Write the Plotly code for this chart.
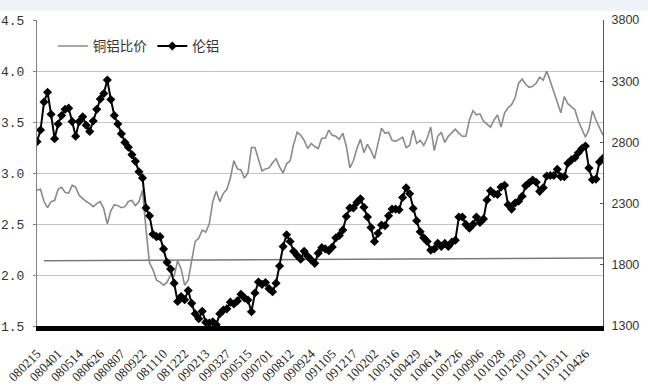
import plotly.graph_objects as go

# x tick labels (every 6th sample)
tick_labels = ["080215", "080401", "080514", "080626", "080807", "080922", "081110",
               "081222", "090213", "090327", "090515", "090701", "090812", "090924",
               "091105", "091217", "100202", "100316", "100429", "100614", "100726",
               "100906", "101028", "101209", "110121", "110311", "110426"]
label_step = 6

# copper/aluminium price ratio (left axis)
ratio = [2.83, 2.84, 2.72, 2.66, 2.72, 2.73, 2.84, 2.86, 2.81, 2.80,
         2.88, 2.86, 2.78, 2.75, 2.72, 2.70, 2.67, 2.70, 2.72, 2.65,
         2.50, 2.63, 2.69, 2.68, 2.66, 2.67, 2.72, 2.73, 2.68, 2.72,
         2.83, 2.45, 2.12, 2.05, 1.95, 1.93, 1.90, 1.93, 2.00, 1.99,
         2.14, 2.06, 1.90, 1.95, 2.15, 2.33, 2.36, 2.44, 2.42, 2.50,
         2.72, 2.82, 2.72, 2.80, 2.84, 2.95, 3.12, 3.04, 3.03, 2.95,
         3.00, 3.25, 3.25, 3.14, 3.02, 3.04, 3.05, 3.10, 3.14, 3.06,
         3.00, 3.09, 3.12, 3.28, 3.40, 3.37, 3.32, 3.24, 3.29, 3.26,
         3.24, 3.34, 3.34, 3.42, 3.37, 3.36, 3.33, 3.39, 3.26, 3.05,
         3.12, 3.24, 3.33, 3.20, 3.28, 3.22, 3.14, 3.29, 3.44, 3.39,
         3.40, 3.32, 3.31, 3.33, 3.35, 3.25, 3.27, 3.42, 3.29, 3.32,
         3.27, 3.34, 3.45, 3.22, 3.36, 3.40, 3.30, 3.36, 3.40, 3.43,
         3.39, 3.36, 3.36, 3.52, 3.61, 3.57, 3.58, 3.51, 3.48, 3.45,
         3.52, 3.57, 3.45, 3.59, 3.64, 3.67, 3.74, 3.88, 3.92, 3.87,
         3.84, 3.85, 3.88, 3.94, 3.91, 4.00, 3.90, 3.79, 3.70, 3.59,
         3.75, 3.68, 3.65, 3.62, 3.51, 3.42, 3.35, 3.43, 3.61, 3.52,
         3.44, 3.37]

# LME aluminium (right axis)
lme_al = [2806, 2901, 3130, 3210, 3030, 2830, 2950, 3020, 3070, 3080,
          2970, 2850, 2970, 3010, 2940, 2890, 2975, 3070, 3155, 3200,
          3310, 3150, 3020, 2950, 2870, 2800, 2760, 2700, 2645, 2560,
          2510, 2265, 2200, 2050, 2030, 2030, 1930, 1820, 1765, 1650,
          1500, 1540, 1515, 1590, 1485, 1400, 1360, 1420, 1330, 1325,
          1335, 1310, 1400, 1430, 1440, 1495, 1480, 1505, 1560, 1530,
          1512, 1417, 1570, 1660, 1640, 1655, 1605, 1580, 1650, 1790,
          1950, 2045, 1990, 1910, 1875, 1845, 1910, 1870, 1840, 1812,
          1895, 1940, 1930, 1915, 1945, 2020, 2040, 2084, 2195, 2265,
          2265, 2310, 2340, 2270, 2190, 2105, 1990, 2057, 2125, 2120,
          2200, 2255, 2255, 2250, 2350, 2430, 2380, 2260, 2160, 2070,
          2020, 1990, 1920, 1930, 1976, 1950, 1975, 1950, 1985, 2000,
          2190, 2190, 2130, 2098, 2130, 2190, 2145, 2175, 2330, 2405,
          2380, 2375, 2435, 2450, 2290, 2255, 2305, 2320, 2360, 2445,
          2470, 2493, 2475, 2400, 2430, 2525, 2530, 2530, 2580, 2520,
          2520, 2630, 2657, 2675, 2715, 2750, 2770, 2590, 2495, 2500,
          2640, 2670]

# right-axis tick values
right_ticks = [1300, 1800, 2300, 2800, 3300, 3800]

# straight reference line on the ratio axis (start / end values)
ref_line = [2.14, 2.167]
ref_start = 2

n = len(ratio)
x = list(range(n))
tickvals = [i * label_step for i in range(len(tick_labels))]

fig = go.Figure()
fig.add_trace(go.Scatter(
    x=[ref_start, n - 1], y=ref_line, mode="lines",
    line=dict(color="#7a7a7a", width=1.5), showlegend=False, hoverinfo="skip"))
fig.add_trace(go.Scatter(
    x=x, y=ratio, mode="lines", name="铜铝比价",
    line=dict(color="#8a8a8a", width=1.6)))
fig.add_trace(go.Scatter(
    x=x, y=lme_al, mode="lines+markers", name="伦铝", yaxis="y2",
    line=dict(color="#000000", width=2),
    marker=dict(symbol="diamond", size=7, color="#000000")))

fig.update_layout(
    width=648, height=391,
    margin=dict(l=37, r=45, t=20, b=65, autoexpand=False),
    paper_bgcolor="#ffffff", plot_bgcolor="#ffffff",
    showlegend=True,
    legend=dict(orientation="h", x=0.028, y=0.965, xanchor="left", yanchor="top",
                bgcolor="rgba(0,0,0,0)", itemwidth=30,
                font=dict(family="Noto Sans CJK SC", size=13.5, color="#333333")),
    xaxis=dict(range=[0, n - 1], tickmode="array", tickvals=tickvals, ticktext=tick_labels,
               tickangle=-45, showgrid=False, zeroline=False, automargin=False,
               showline=True, linecolor="#000000", linewidth=5,
               ticks="outside", ticklen=10, tickcolor="rgba(0,0,0,0)",
               tickfont=dict(family="Liberation Serif", size=13, color="#222222")),
    yaxis=dict(range=[1.5, 4.5], dtick=0.5, tickformat=".1f", showgrid=True,
               gridcolor="#c4c4c4", gridwidth=1, zeroline=False, automargin=False,
               showline=True, linecolor="#808080", linewidth=1,
               ticks="outside", ticklen=3, tickcolor="#808080", ticklabelstandoff=6,
               tickfont=dict(family="Liberation Mono", size=13, color="#333333")),
    yaxis2=dict(range=[1300, 3800], tickmode="array", tickvals=right_ticks,
                overlaying="y", side="right", automargin=False,
                showgrid=False, zeroline=False, showline=True, linecolor="#555555",
                linewidth=1, ticks="inside", ticklen=3, tickcolor="#555555",
                ticklabelstandoff=5,
                tickfont=dict(family="Liberation Sans", size=12.5, color="#333333")),
    shapes=[dict(type="rect", xref="paper", yref="paper", x0=-0.1, x1=1.1,
                 y0=1.03, y1=1.1, fillcolor="#eef3f9", line=dict(width=0), layer="below")],
)

fig.write_html("out.html", config={"displayModeBar": False},
               post_script="document.body.style.margin='0';")
